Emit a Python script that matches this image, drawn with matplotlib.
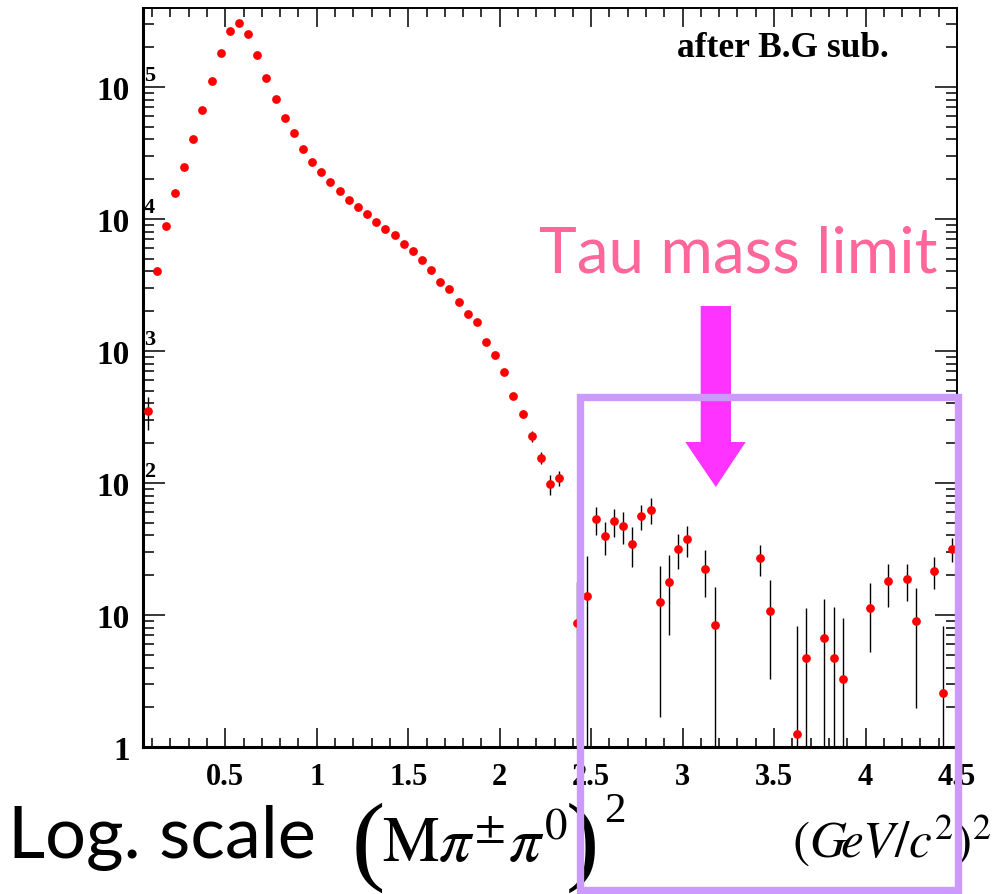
import numpy as np
import matplotlib
matplotlib.use('Agg')
import matplotlib.pyplot as plt
from matplotlib.patches import Rectangle, Polygon
from matplotlib.ticker import FixedLocator, MultipleLocator, LogLocator, NullFormatter

# (M pi+- pi0)^2 bin centres, bin width 0.05 (GeV/c^2)^2; empty bins are left out
m2 = [0.075, 0.125, 0.175, 0.225, 0.275, 0.325, 0.375, 0.425, 0.475, 0.525,
      0.575, 0.625, 0.675, 0.725, 0.775, 0.825, 0.875, 0.925, 0.975, 1.025,
      1.075, 1.125, 1.175, 1.225, 1.275, 1.325, 1.375, 1.425, 1.475, 1.525,
      1.575, 1.625, 1.675, 1.725, 1.775, 1.825, 1.875, 1.925, 1.975, 2.025,
      2.075, 2.125, 2.175, 2.225, 2.275, 2.325, 2.425, 2.475, 2.525, 2.575,
      2.625, 2.675, 2.725, 2.775, 2.825, 2.875, 2.925, 2.975, 3.025, 3.125,
      3.175, 3.425, 3.475, 3.625, 3.675, 3.775, 3.825, 3.875, 4.025, 4.125,
      4.225, 4.275, 4.375, 4.425, 4.475]

# entries per bin after background subtraction
counts = [351, 4040, 8850, 15700, 24800, 40400, 67000, 111000, 181000, 266000,
          305000, 252000, 175000, 117000, 81100, 58200, 44800, 33900, 27000, 22700,
          19100, 16300, 13900, 12300, 10900, 9490, 8400, 7560, 6470, 5720,
          4890, 4110, 3330, 2950, 2350, 1910, 1660, 1170, 933, 693,
          456, 333, 227, 155, 98.3, 109, 8.7, 13.9, 53.4, 39.5,
          51.3, 47.2, 34.7, 56.2, 62.8, 12.5, 17.8, 31.8, 37.4, 22.3,
          8.4, 26.9, 10.8, 1.25, 4.72, 6.7, 4.72, 3.26, 11.3, 18.0,
          18.6, 8.96, 21.7, 2.58, 31.8]

errors = [100, 70, 100, 130, 160, 200, 260, 330, 430, 520,
          560, 500, 420, 340, 290, 240, 210, 185, 165, 150,
          140, 130, 120, 112, 105, 98, 92, 88, 82, 77,
          72, 66, 60, 56, 50, 46, 42, 36, 32, 28,
          24, 22, 21, 17, 17, 14, 9.0, 14.2, 12.7, 10.9,
          12.2, 12.8, 11.5, 11.9, 14.2, 10.8, 10.7, 9.5, 10.1, 8.6,
          8.0, 7.0, 7.5, 7.0, 6.6, 6.5, 6.7, 6.2, 6.1, 6.5,
          5.9, 7.0, 6.0, 5.6, 6.5]

xticks = [0.5, 1.0, 1.5, 2.0, 2.5, 3.0, 3.5, 4.0, 4.5]
xticklabels = ['0.5', '1', '1.5', '2', '2.5', '3', '3.5', '4', '4.5']
ydecades = [0, 1, 2, 3, 4, 5]
yticklabels = ['1', '10', '10', '10', '10', '10']

plt.rcParams['mathtext.fontset'] = 'stix'
serif = 'Liberation Serif'

W, H = 992, 895
fig = plt.figure(figsize=(W / 100, H / 100), dpi=100)
ax = fig.add_axes([143 / W, 1 - 748 / H, (957 - 143) / W, (748 - 9) / H])
ax.set_yscale('log')
ax.set_xlim(0.05, 4.5)
ax.set_ylim(1, 3.96e5)

counts = np.array(counts)
errors = np.array(errors)
lower = np.minimum(errors, counts * 0.999)  # bars going below zero run to the axis
ax.errorbar(m2, counts, yerr=[lower, errors], fmt='none', ecolor='black',
            elinewidth=1.0, capsize=0, zorder=2)
ax.plot(m2, counts, 'o', color='red', ms=6.3, mec='none', zorder=3)

# axes in the ROOT look: ticks inside on all four sides
ax.xaxis.set_major_locator(FixedLocator(xticks))
ax.xaxis.set_minor_locator(MultipleLocator(0.1))
ax.set_xticklabels(xticklabels, fontsize=22, fontweight='bold', family=serif)
ax.yaxis.set_major_locator(FixedLocator([10.0 ** k for k in ydecades]))
ax.yaxis.set_minor_locator(LogLocator(base=10, subs=np.arange(2, 10) * 1.0, numticks=20))
ax.yaxis.set_minor_formatter(NullFormatter())
ax.set_yticklabels(yticklabels, fontsize=24, fontweight='bold', family=serif)

ax.tick_params(which='both', direction='in', top=True, right=True, color='black', width=1.1)
ax.tick_params(axis='x', which='major', length=13.5, pad=11)
ax.tick_params(axis='x', which='minor', length=6.5)
ax.tick_params(axis='y', which='major', length=16, pad=9.5)
ax.tick_params(axis='y', which='minor', length=8)
for s in ['left', 'bottom']:
    ax.spines[s].set_linewidth(2.2)
for s in ['top', 'right']:
    ax.spines[s].set_linewidth(1.4)

# exponents of the decade labels
for k in ydecades[2:]:
    ax.annotate(str(k), xy=(0, 10.0 ** k), xycoords=('axes fraction', 'data'),
                xytext=(1, 12), textcoords='offset pixels', ha='left', va='center',
                fontsize=16, fontweight='bold', family=serif, annotation_clip=False)


def fx(x):
    return x / W


def fy(y):
    return 1 - y / H


fig.text(fx(677), fy(57), 'after B.G sub.', fontsize=25.5, fontweight='bold',
         family=serif, va='baseline', ha='left')

fig.text(fx(539), fy(273), 'Tau mass limit', fontsize=46, family='Lato',
         color='#ff6699', va='baseline', ha='left')

# arrow pointing at the tau mass squared
arrow = [(700.7, 307), (731, 307), (731, 443), (745.7, 443), (715.8, 488),
         (685.3, 443), (700.7, 443)]
fig.patches.append(Polygon([(fx(x), fy(y)) for x, y in arrow], closed=True,
                           transform=fig.transFigure, facecolor='#ff33ff',
                           edgecolor='none', zorder=5))

# frame around the region above the tau mass
fig.patches.append(Rectangle((fx(579.7), fy(891)), fx(958) - fx(579.7), fy(398) - fy(891),
                             transform=fig.transFigure, fill=False,
                             edgecolor='#cc99ff', linewidth=5.3, zorder=6))

fig.text(fx(8), fy(858), 'Log. scale', fontsize=52, family='Lato',
         va='baseline', ha='left')

# axis title with tall brackets
fig.text(fx(352), fy(872), '(', fontsize=72, family=serif, va='baseline', ha='left')
fig.text(fx(382), fy(862), r'$\mathrm{M}\pi^{\pm}\pi^{0}$', fontsize=46,
         va='baseline', ha='left')
fig.text(fx(566), fy(872), ')', fontsize=72, family=serif, va='baseline', ha='left')
fig.text(fx(604), fy(822), '2', fontsize=31, family=serif, va='baseline', ha='left')

fig.text(fx(792), fy(858), r'$\left(G\!eV/c^{2}\right)^{2}$',
         fontsize=37, va='baseline', ha='left')

fig.savefig('out.png', dpi=100)
